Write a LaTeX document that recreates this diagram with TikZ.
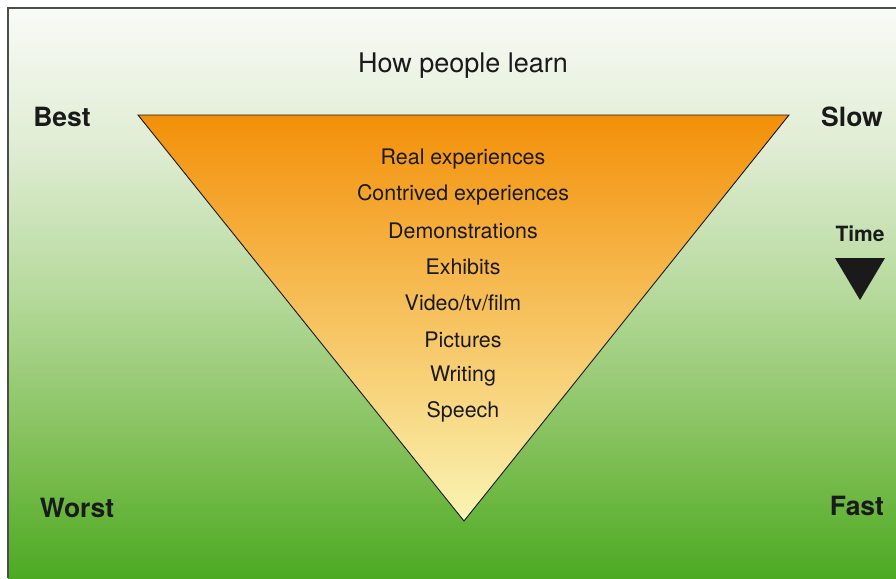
\documentclass[tikz,border=0pt]{standalone}
\usepackage{fontspec}
\setmainfont{TeX Gyre Heros}
\usetikzlibrary{positioning}

\definecolor{frameline}{HTML}{4D4D4D}
\definecolor{inkdark}{HTML}{1A1A1A}
\definecolor{conetop}{HTML}{F39009}
\definecolor{conebot}{HTML}{FAF4B4}
\definecolor{grassA}{HTML}{F9FBF7}
\definecolor{grassB}{HTML}{DFECD2}
\definecolor{grassC}{HTML}{B4D99A}
\definecolor{grassD}{HTML}{80BF56}
\definecolor{grassE}{HTML}{4CAA22}

\pgfdeclareverticalshading{meadow}{100bp}{color(0bp)=(grassE); color(25bp)=(grassE);
  color(36bp)=(grassD); color(49.5bp)=(grassC); color(62.5bp)=(grassB);
  color(75bp)=(grassA); color(100bp)=(grassA)}

\tikzset{
  heading/.style={text=inkdark, font=\fontsize{27}{31}\selectfont},
  corner/.style={text=inkdark, font=\bfseries\fontsize{26.5}{30}\selectfont},
  item/.style={text=inkdark, font=\fontsize{21.4}{25}\selectfont},
  timelabel/.style={text=inkdark, font=\bfseries\fontsize{21}{25}\selectfont}
}

\begin{document}
\begin{tikzpicture}[x=1pt,y=-1pt]

    \useasboundingbox (0,0) rectangle (896,578);

    % background and frame
    \fill[shading=meadow] (8,8) rectangle (896,578);
    \draw[frameline,line width=1.6pt] (8,578) -- (8,8) -- (896,8);

    % the cone
    \coordinate (TL) at (138,115);
    \coordinate (TR) at (789,115);
    \coordinate (TB) at (464,521);
    \draw[draw=inkdark,line width=0.9pt,top color=conetop,bottom color=conebot]
        (TL) -- (TR) -- (TB) -- cycle;

    \node[heading] (title) at (463,66) {How people learn};

    \node[corner] (best)  at (62,117)  {Best};
    \node[corner] (slow)  at (852,117) {Slow};
    \node[corner] (worst) at (77,508)  {Worst};
    \node[corner] (fast)  at (857,506) {Fast};

    \node[timelabel] (time) at (860,234) {Time};
    \fill[inkdark] (835,258) -- (885,258) -- (860,300) -- cycle;

    \node[item] (real)     at (463,159) {Real experiences};
    \node[item] (contrive) at (463,195) {Contrived experiences};
    \node[item] (demo)     at (463,231) {Demonstrations};
    \node[item] (exhibit)  at (463,267) {Exhibits};
    \node[item] (video)    at (463,303) {Video/tv/film};
    \node[item] (picture)  at (463,340) {Pictures};
    \node[item] (writing)  at (463,376) {Writing};
    \node[item] (speech)   at (463,412) {Speech};
\end{tikzpicture}
\end{document}
